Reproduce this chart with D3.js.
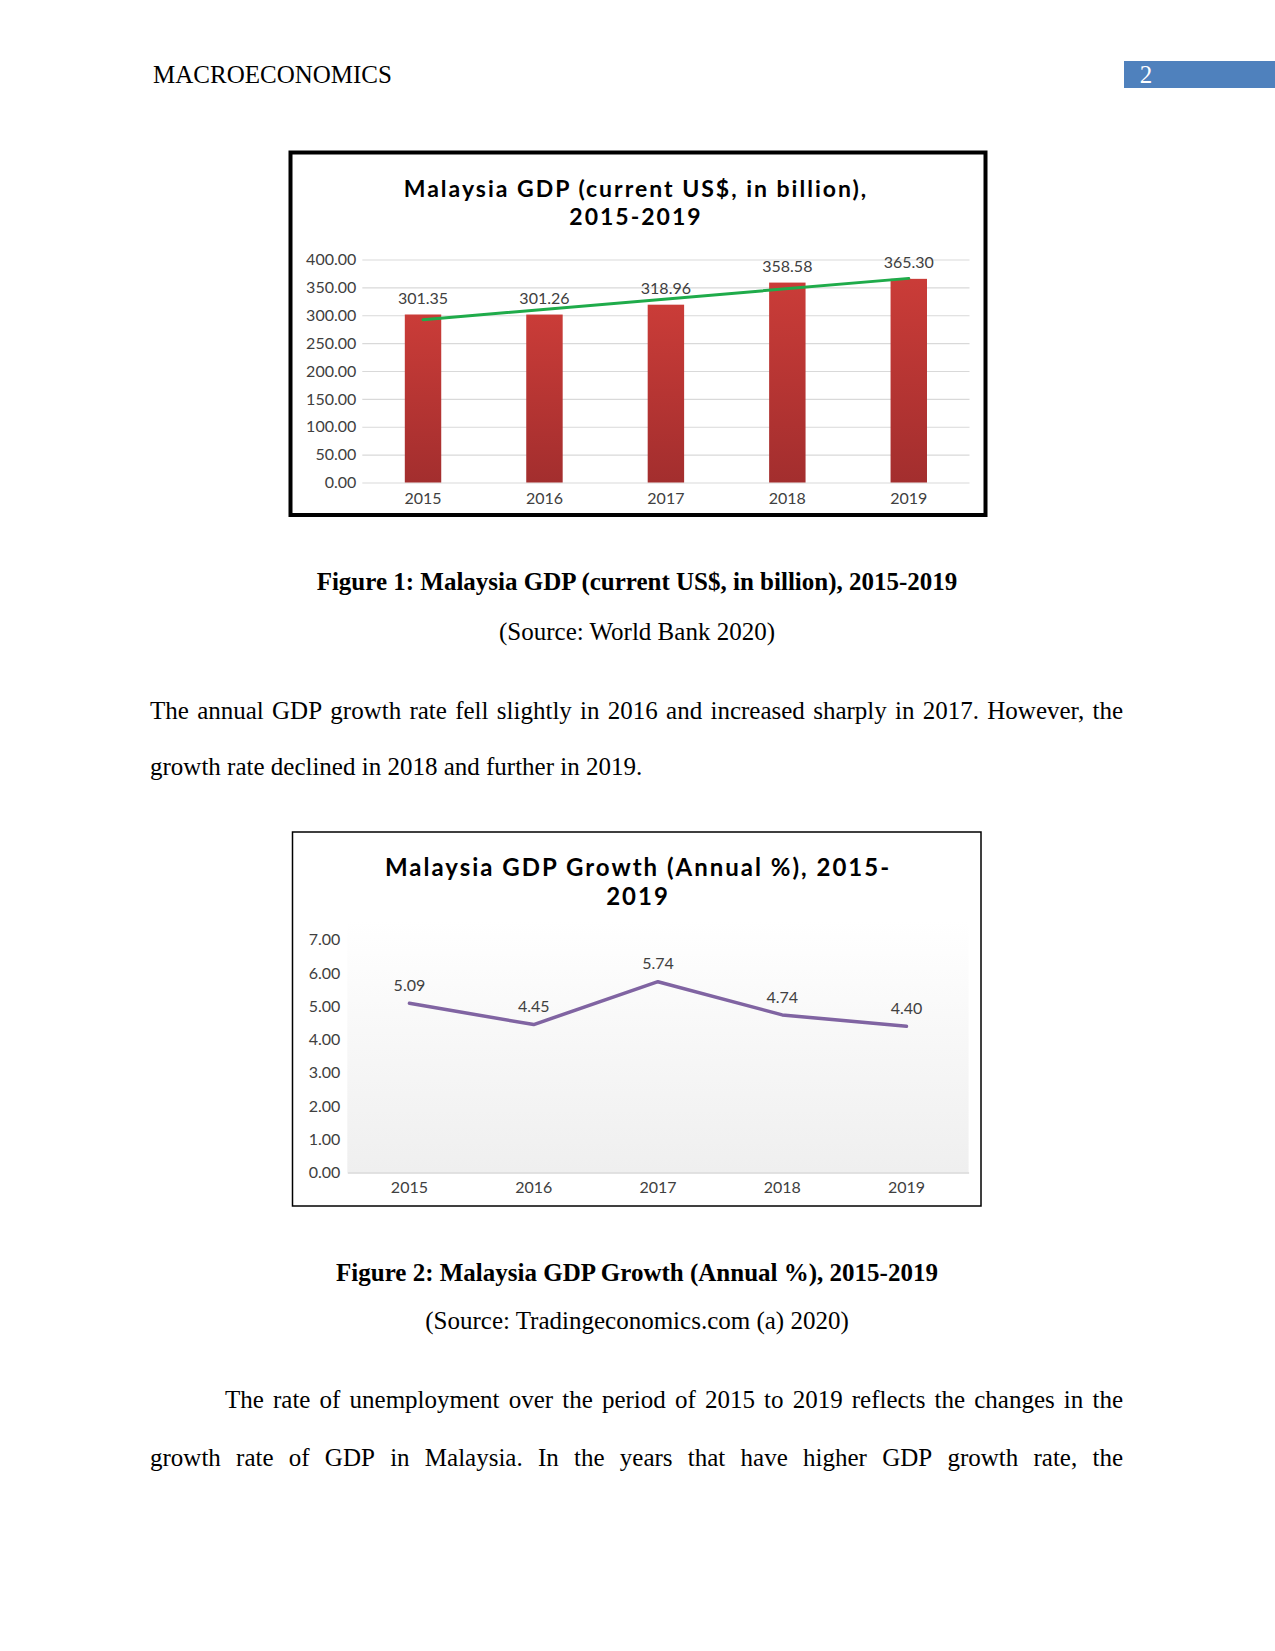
<!DOCTYPE html>
<html>
<head>
<meta charset="utf-8">
<title>Macroeconomics</title>
<script src="https://d3js.org/d3.v7.min.js"></script>
<style>
  body { margin: 0; background: #fff; }
  svg text { font-family: "Liberation Serif", "Times New Roman", serif; }
  .chart text { font-family: Lato, "Open Sans", sans-serif; }
  .chart .title { letter-spacing: 2px; }
</style>
</head>
<body>
<svg id="page" width="1275" height="1651"></svg>
<script>
// data
var years = ["2015", "2016", "2017", "2018", "2019"];
var gdp = [301.35, 301.26, 318.96, 358.58, 365.30];
var gdpTicks = [0, 50, 100, 150, 200, 250, 300, 350, 400];
var growth = [5.09, 4.45, 5.74, 4.74, 4.40];
var growthTicks = [0, 1, 2, 3, 4, 5, 6, 7];

var svg = d3.select("#page");
var fmt = d3.format(".2f");

// ---------- page text ----------
svg.append("text").attr("x", 153).attr("y", 83)
  .style("font-size", "25px").text("MACROECONOMICS");
svg.append("rect").attr("x", 1124).attr("y", 61).attr("width", 151).attr("height", 27)
  .attr("fill", "#4f81bd");
svg.append("text").attr("x", 1146).attr("y", 83).attr("text-anchor", "middle")
  .style("font-size", "25px").attr("fill", "#fff").text("2");

function centered(str, y, bold) {
  svg.append("text").attr("x", 637).attr("y", y).attr("text-anchor", "middle")
    .style("font-size", "25px").style("font-weight", bold ? "bold" : "normal").text(str);
}

// justified line: spread words between x0 and x1
function justify(str, x0, x1, y) {
  var words = str.split(" ");
  var t = svg.append("text").attr("y", y).style("font-size", "25px");
  var spans = words.map(function(w) { return t.append("tspan").text(w); });
  var widths = spans.map(function(s) { return s.node().getComputedTextLength(); });
  var gap = (x1 - x0 - d3.sum(widths)) / (words.length - 1);
  var x = x0;
  spans.forEach(function(s, i) { s.attr("x", x); x += widths[i] + gap; });
}

centered("Figure 1: Malaysia GDP (current US$, in billion), 2015-2019", 590, true);
centered("(Source: World Bank 2020)", 640, false);
justify("The annual GDP growth rate fell slightly in 2016 and increased sharply in 2017. However, the", 150, 1123, 719);
svg.append("text").attr("x", 150).attr("y", 775).style("font-size", "25px")
  .text("growth rate declined in 2018 and further in 2019.");
centered("Figure 2: Malaysia GDP Growth (Annual %), 2015-2019", 1281, true);
centered("(Source: Tradingeconomics.com (a) 2020)", 1329, false);
justify("The rate of unemployment over the period of 2015 to 2019 reflects the changes in the", 225, 1123, 1408);
justify("growth rate of GDP in Malaysia. In the years that have higher GDP growth rate, the", 150, 1123, 1466);

// ---------- chart 1: GDP bars ----------
var c1 = svg.append("g").attr("class", "chart");
var defs = svg.append("defs");
var bg = defs.append("linearGradient").attr("id", "barGrad")
  .attr("x1", 0).attr("y1", 0).attr("x2", 0).attr("y2", 1);
bg.append("stop").attr("offset", "0%").attr("stop-color", "#ca3c38");
bg.append("stop").attr("offset", "100%").attr("stop-color", "#a32e2e");

c1.append("rect").attr("x", 290.5).attr("y", 152.5).attr("width", 695).attr("height", 362.5)
  .attr("fill", "#fff").attr("stroke", "#000").attr("stroke-width", 4);

c1.append("text").attr("class", "title").attr("x", 636).attr("y", 197).attr("text-anchor", "middle")
  .style("font-size", "23px").style("font-weight", "bold").attr("fill", "#000")
  .text("Malaysia GDP (current US$, in billion),");
c1.append("text").attr("class", "title").attr("x", 636).attr("y", 225).attr("text-anchor", "middle")
  .style("font-size", "23px").style("font-weight", "bold").attr("fill", "#000")
  .text("2015-2019");

var x1 = d3.scaleBand().domain(years).range([362.3, 969.5]).paddingInner(0.7).paddingOuter(0.35);
var y1 = d3.scaleLinear().domain([0, 400]).range([482.5, 259.5]);

var ya1 = c1.append("g").attr("transform", "translate(362.3,0)")
  .call(d3.axisLeft(y1).tickValues(gdpTicks).tickFormat(fmt).tickSize(-(969.5 - 362.3)).tickPadding(6));
ya1.select(".domain").remove();
ya1.selectAll("line").attr("stroke", "#d9d9d9").attr("stroke-width", 1.2);
ya1.selectAll("text").attr("fill", "#404040").style("font-size", "16px");

var xa1 = c1.append("g").attr("transform", "translate(0,482.5)")
  .call(d3.axisBottom(x1).tickSize(0).tickPadding(10));
xa1.select(".domain").remove();
xa1.selectAll("text").attr("fill", "#404040").style("font-size", "16px");

c1.selectAll(".bar").data(gdp).enter().append("rect")
  .attr("class", "bar")
  .attr("x", function(d, i) { return x1(years[i]); })
  .attr("y", function(d) { return y1(d); })
  .attr("width", x1.bandwidth())
  .attr("height", function(d) { return y1(0) - y1(d); })
  .attr("fill", "url(#barGrad)");

// linear trendline (least squares over the bar values)
var idx = d3.range(gdp.length);
var mx = d3.mean(idx), my = d3.mean(gdp);
var slope = d3.sum(idx, function(i) { return (i - mx) * (gdp[i] - my); }) /
            d3.sum(idx, function(i) { return (i - mx) * (i - mx); });
var trend = [0, gdp.length - 1].map(function(i) { return [i, my + slope * (i - mx)]; });
c1.append("path")
  .attr("d", d3.line()
    .x(function(d) { return x1(years[d[0]]) + x1.bandwidth() / 2; })
    .y(function(d) { return y1(d[1]); })(trend))
  .attr("fill", "none").attr("stroke", "#1fab4a").attr("stroke-width", 3).attr("stroke-linecap", "round");

c1.selectAll(".lbl").data(gdp).enter().append("text")
  .attr("class", "lbl")
  .attr("x", function(d, i) { return x1(years[i]) + x1.bandwidth() / 2; })
  .attr("y", function(d) { return y1(d) - 10.7; })
  .attr("text-anchor", "middle").attr("fill", "#404040").style("font-size", "16px")
  .text(fmt);

// ---------- chart 2: GDP growth line ----------
var c2 = svg.append("g").attr("class", "chart");
var ag = defs.append("linearGradient").attr("id", "areaGrad")
  .attr("x1", 0).attr("y1", 0).attr("x2", 0).attr("y2", 1);
ag.append("stop").attr("offset", "0%").attr("stop-color", "#ffffff");
ag.append("stop").attr("offset", "100%").attr("stop-color", "#efefef");

c2.append("rect").attr("x", 292.5).attr("y", 832).attr("width", 688.5).attr("height", 374)
  .attr("fill", "#fff").attr("stroke", "#000").attr("stroke-width", 1.5);

c2.append("text").attr("class", "title").attr("x", 638).attr("y", 875.5).attr("text-anchor", "middle")
  .style("font-size", "24px").style("font-weight", "bold").attr("fill", "#000")
  .text("Malaysia GDP Growth (Annual %), 2015-");
c2.append("text").attr("class", "title").attr("x", 638).attr("y", 905).attr("text-anchor", "middle")
  .style("font-size", "24px").style("font-weight", "bold").attr("fill", "#000")
  .text("2019");

var x2 = d3.scaleBand().domain(years).range([347.3, 968.6]);
var y2 = d3.scaleLinear().domain([0, 7]).range([1172.5, 939.8]);

c2.append("rect").attr("x", 347.3).attr("y", 920).attr("width", 968.6 - 347.3).attr("height", 1172.5 - 920)
  .attr("fill", "url(#areaGrad)");

var ya2 = c2.append("g").attr("transform", "translate(347.3,0)")
  .call(d3.axisLeft(y2).tickValues(growthTicks).tickFormat(fmt).tickSize(0).tickPadding(7));
ya2.select(".domain").remove();
ya2.selectAll("text").attr("fill", "#404040").style("font-size", "16px");

var xa2 = c2.append("g").attr("transform", "translate(0,1172.5)")
  .call(d3.axisBottom(x2).tickSize(0).tickPadding(9.5));
xa2.select(".domain").attr("stroke", "#d9d9d9").attr("stroke-width", 1.5);
xa2.selectAll("text").attr("fill", "#404040").style("font-size", "16px");

var px = function(d, i) { return x2(years[i]) + x2.bandwidth() / 2; };
c2.append("path")
  .attr("d", d3.line().x(px).y(function(d) { return y2(d); })(growth))
  .attr("fill", "none").attr("stroke", "#8064a2").attr("stroke-width", 3.5)
  .attr("stroke-linecap", "round").attr("stroke-linejoin", "round");

c2.selectAll(".lbl2").data(growth).enter().append("text")
  .attr("class", "lbl2")
  .attr("x", px)
  .attr("y", function(d) { return y2(d) - 12.2; })
  .attr("text-anchor", "middle").attr("fill", "#404040").style("font-size", "16px")
  .text(fmt);
</script>
</body>
</html>
